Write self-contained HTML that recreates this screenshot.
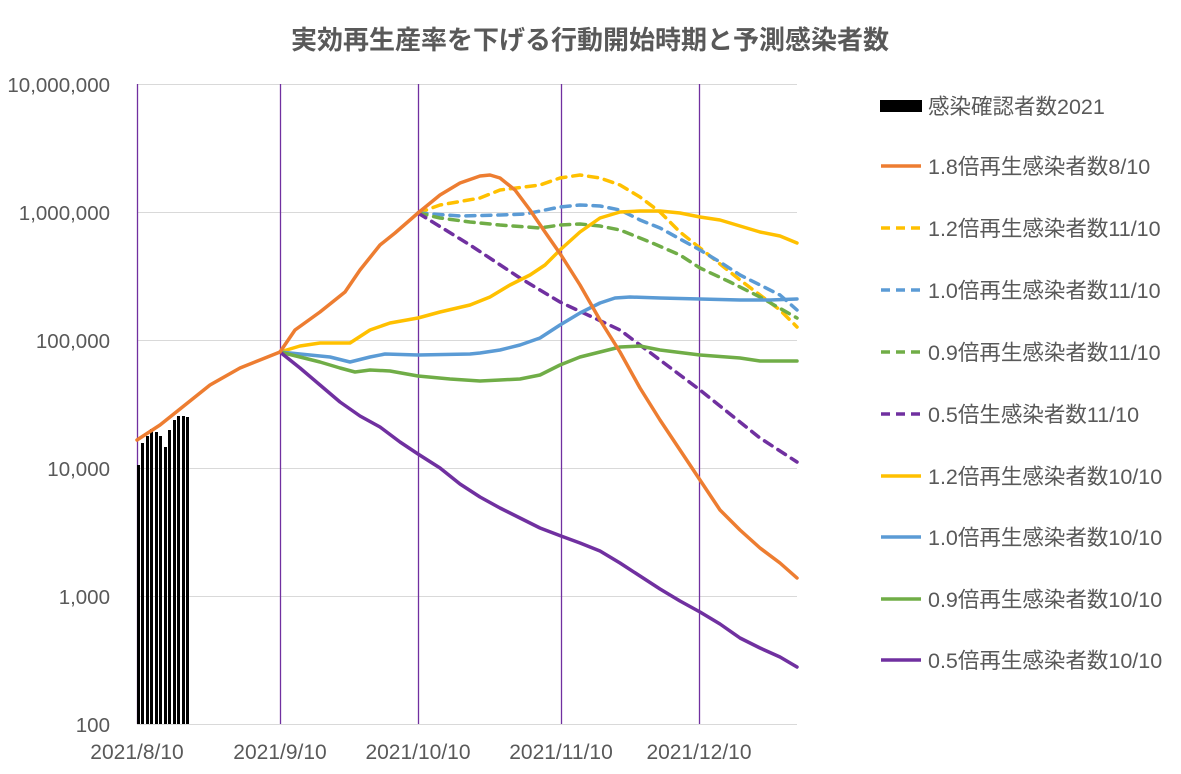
<!DOCTYPE html>
<html><head><meta charset="utf-8"><style>
body{margin:0;background:#fff;width:1181px;height:769px;overflow:hidden}
svg text{font-family:"Liberation Sans","Noto Sans CJK JP",sans-serif;fill:#595959}
</style></head><body>
<svg width="1181" height="769" viewBox="0 0 1181 769" xmlns="http://www.w3.org/2000/svg">
<text x="590" y="49" text-anchor="middle" font-size="26" font-weight="bold">実効再生産率を下げる行動開始時期と予測感染者数</text>
<g stroke="#d9d9d9" stroke-width="1">
<line x1="137" y1="84.5" x2="797" y2="84.5"/><line x1="137" y1="212.5" x2="797" y2="212.5"/>
<line x1="137" y1="340.5" x2="797" y2="340.5"/><line x1="137" y1="468.5" x2="797" y2="468.5"/>
<line x1="137" y1="596.5" x2="797" y2="596.5"/><line x1="137" y1="724.5" x2="797" y2="724.5"/>
</g>
<g stroke="#7030a0" stroke-width="1.3">
<line x1="137.5" y1="84" x2="137.5" y2="724"/><line x1="280.5" y1="84" x2="280.5" y2="724"/>
<line x1="418.5" y1="84" x2="418.5" y2="724"/><line x1="561.5" y1="84" x2="561.5" y2="724"/>
<line x1="699.5" y1="84" x2="699.5" y2="724"/>
</g>
<g font-size="20.5" text-anchor="end">
<text x="110" y="92">10,000,000</text><text x="110" y="220">1,000,000</text>
<text x="110" y="348">100,000</text><text x="110" y="476">10,000</text>
<text x="110" y="604">1,000</text><text x="110" y="732">100</text>
</g>
<g font-size="21" text-anchor="middle">
<text x="137" y="759">2021/8/10</text><text x="280" y="759">2021/9/10</text>
<text x="418" y="759">2021/10/10</text><text x="561" y="759">2021/11/10</text>
<text x="699" y="759">2021/12/10</text>
</g>
<g fill="#000">
<rect x="137" y="465" width="3" height="259"/><rect x="141" y="443" width="3" height="281"/>
<rect x="146" y="436" width="3" height="288"/><rect x="150" y="429" width="3" height="295"/>
<rect x="155" y="432" width="3" height="292"/><rect x="159" y="436" width="3" height="288"/>
<rect x="164" y="447" width="3" height="277"/><rect x="168" y="430" width="3" height="294"/>
<rect x="173" y="420" width="3" height="304"/><rect x="177" y="416" width="3" height="308"/>
<rect x="182" y="416" width="3" height="308"/><rect x="186" y="417" width="3" height="307"/>
</g>
<g fill="none" stroke-width="3.5" stroke-linejoin="round" stroke-linecap="round">
<polyline stroke="#ffc000" stroke-dasharray="9,7" points="418,213 440,205 480,198 500,190 540,185 560,178 580,175 600,178 620,185 640,197 660,212 680,232 700,248 720,264 740,280 760,295 780,310 797,327"/>
<polyline stroke="#5b9bd5" stroke-dasharray="9,7" points="418,213 460,216 500,215 525,214 545,210 560,207 580,205 600,206 620,210 640,220 660,228 700,250 720,262 740,275 760,285 780,295 797,310"/>
<polyline stroke="#70ad47" stroke-dasharray="9,7" points="418,213 440,218 470,222 500,225 540,228 560,225 580,224 600,226 620,230 650,242 680,255 700,268 730,282 760,297 797,318"/>
<polyline stroke="#7030a0" stroke-dasharray="9,7" points="418,213 470,245 520,278 560,302 620,330 660,360 700,390 760,438 797,462"/>
<polyline stroke="#ffc000" points="280,352 300,346 320,343 350,343 370,330 390,323 418,318 440,312 470,305 490,297 510,285 530,275 545,265 560,250 580,232 600,218 620,212 640,211 660,211 680,213 700,217 720,220 740,226 760,232 780,236 797,243"/>
<polyline stroke="#5b9bd5" points="280,352 310,355 330,357 350,362 370,357 385,354 418,355 470,354 480,353 500,350 520,345 540,338 560,325 580,313 600,303 615,298 630,297 660,298 700,299 740,300 770,300 797,299"/>
<polyline stroke="#70ad47" points="280,352 300,357 320,362 340,368 355,372 370,370 390,371 418,376 450,379 480,381 500,380 520,379 540,375 560,365 580,357 600,352 620,347 640,346 660,350 700,355 740,358 760,361 797,361"/>
<polyline stroke="#7030a0" points="280,352 300,368 320,385 340,402 360,416 380,427 400,442 418,454 440,468 460,484 480,497 500,508 520,518 540,528 561,536 580,543 600,551 620,563 640,576 660,589 680,601 700,612 720,624 740,638 760,648 780,657 797,667"/>
<polyline stroke="#ed7d31" points="137,440 160,425 185,405 210,385 240,368 265,358 280,352 295,330 320,312 345,292 360,270 380,245 395,233 418,213 440,195 460,183 480,176 490,175 500,178 515,190 530,210 545,232 561,255 580,285 600,320 620,352 640,388 660,420 680,450 700,480 720,510 740,530 760,548 780,563 797,578"/>
</g>
<g font-size="21.5">
<rect x="880" y="100" width="42" height="12" fill="#000"/><text x="928" y="114">感染確認者数2021</text>
<g stroke-width="3.5" fill="none">
<line x1="881" y1="166" x2="921" y2="166" stroke="#ed7d31"/>
<line x1="881" y1="228" x2="921" y2="228" stroke="#ffc000" stroke-dasharray="9,6"/>
<line x1="881" y1="290" x2="921" y2="290" stroke="#5b9bd5" stroke-dasharray="9,6"/>
<line x1="881" y1="352" x2="921" y2="352" stroke="#70ad47" stroke-dasharray="9,6"/>
<line x1="881" y1="414" x2="921" y2="414" stroke="#7030a0" stroke-dasharray="9,6"/>
<line x1="881" y1="476" x2="921" y2="476" stroke="#ffc000"/>
<line x1="881" y1="537" x2="921" y2="537" stroke="#5b9bd5"/>
<line x1="881" y1="599" x2="921" y2="599" stroke="#70ad47"/>
<line x1="881" y1="660" x2="921" y2="660" stroke="#7030a0"/>
</g>
<text x="928" y="174">1.8倍再生感染者数8/10</text>
<text x="928" y="236">1.2倍再生感染者数11/10</text>
<text x="928" y="298">1.0倍再生感染者数11/10</text>
<text x="928" y="360">0.9倍再生感染者数11/10</text>
<text x="928" y="422">0.5倍生感染者数11/10</text>
<text x="928" y="484">1.2倍再生感染者数10/10</text>
<text x="928" y="545">1.0倍再生感染者数10/10</text>
<text x="928" y="607">0.9倍再生感染者数10/10</text>
<text x="928" y="668">0.5倍再生感染者数10/10</text>
</g>
</svg>
</body></html>
